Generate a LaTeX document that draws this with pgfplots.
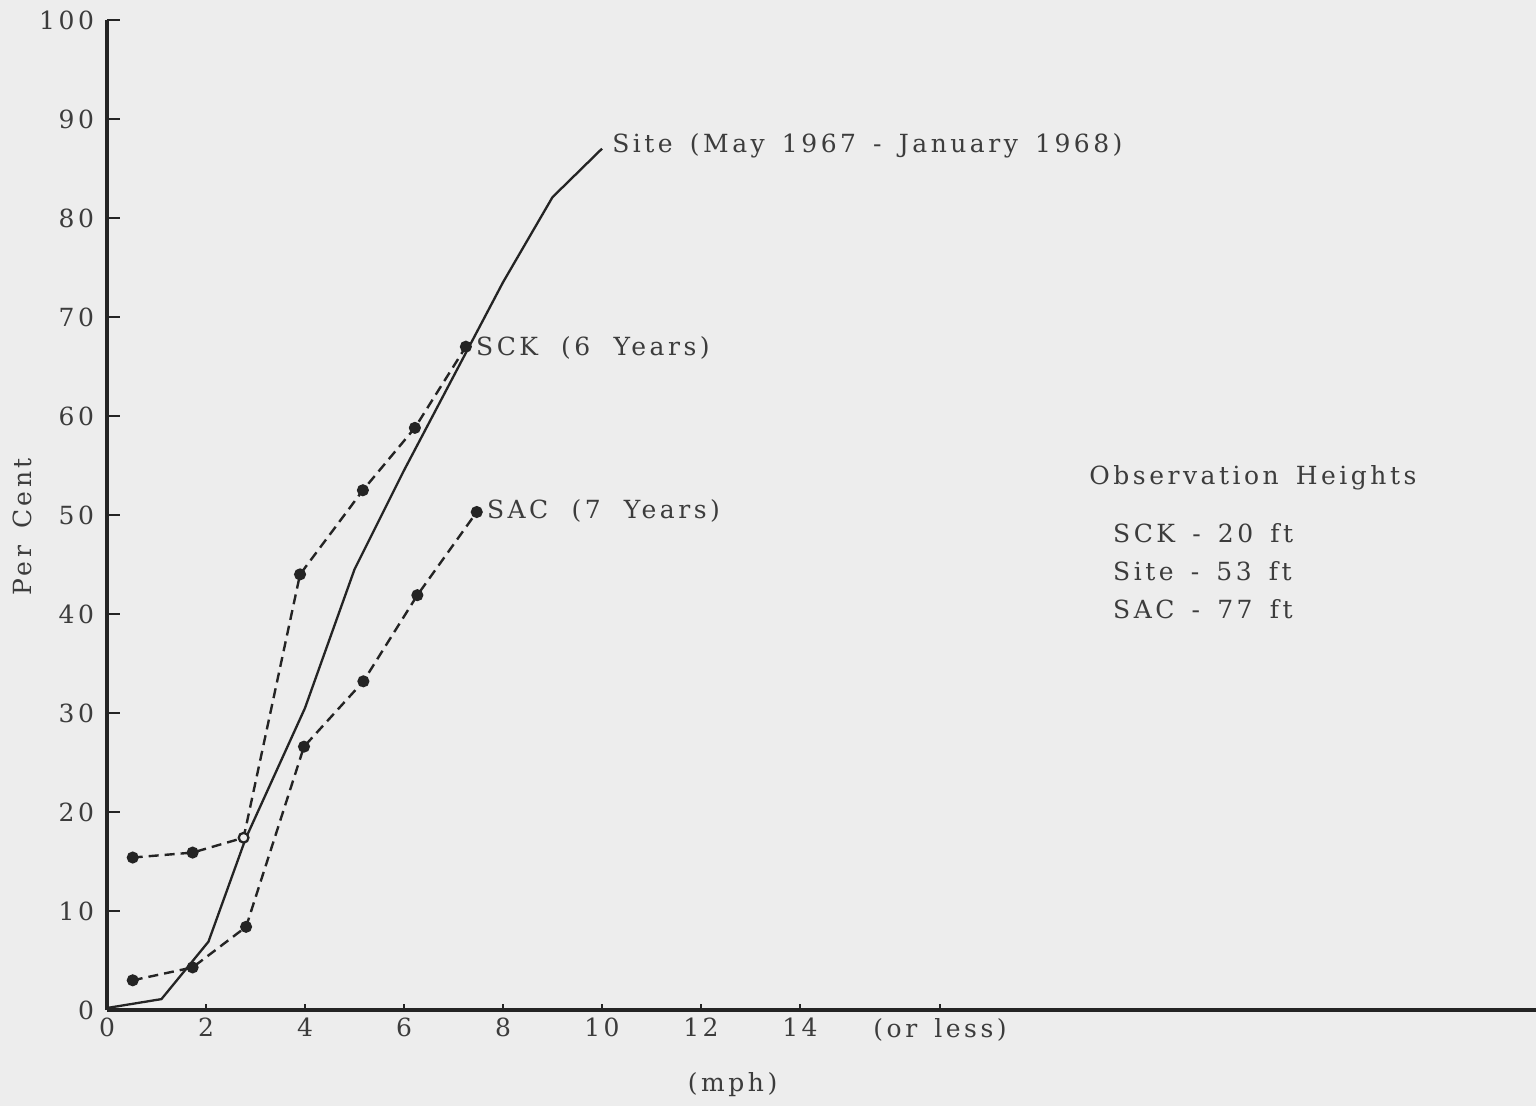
\documentclass[border=0pt]{standalone}
\usepackage{pgfplots}
\pgfplotsset{compat=1.18}
\usepackage{fontspec}
\setmainfont{DejaVu Serif}[LetterSpace=14, WordSpace=1.5]
\definecolor{txt}{HTML}{3C3C3C}
\definecolor{ink}{HTML}{242424}
\definecolor{paper}{HTML}{EDEDED}
\begin{document}
\begin{tikzpicture}[x=1pt,y=1pt]
\fill[paper] (-53.5,-48) rectangle (714.5,505);
\useasboundingbox (-53.5,-48) rectangle (714.5,505);
\begin{axis}[
  at={(0,0)}, anchor=south west,
  scale only axis, width=714.5pt, height=495pt,
  xmin=0, xmax=28.87, ymin=0, ymax=100,
  axis x line=bottom, axis y line=left,
  axis line style={-, ink, line width=1.6pt},
  xtick={0,2,...,14}, ytick={0,10,...,100},
  extra x ticks={16.83}, extra x tick labels={(or less)},
  extra x tick style={/pgfplots/major tick length=0pt},
  tick align=inside,
  major tick length=6.5pt,
  xtick style={ink, line width=1.3pt, /pgfplots/major tick length=3pt},
  ytick style={ink, line width=1.3pt},
  tick label style={font=\fontsize{12.5}{14}\selectfont, text=txt},
  yticklabel style={xshift=-3pt},
  xticklabel style={yshift=-0.5pt},
  /pgf/number format/assume math mode=true,
  clip=false,
]
\addplot[ink, line width=1.15pt] coordinates {
(0,0.2) (1.1,1.1) (2.05,6.9) (2.8,17.3) (3.5,25) (4,30.5) (5,44.5) (6,54.5) (7,64) (8,73.5) (9,82.1) (10,87)};
\addplot[ink, line width=1.2pt, dash pattern=on 5pt off 3pt, mark=*, mark size=2.4pt, mark options={solid, fill=ink}] coordinates {
(0.52,15.4) (1.73,15.9) (2.76,17.4) (3.9,44) (5.17,52.5) (6.22,58.8) (7.25,67)};
\addplot[only marks, mark=*, mark size=2.3pt, mark options={solid, fill=paper, draw=ink, line width=0.9pt}] coordinates {(2.76,17.4)};
\addplot[ink, line width=1.2pt, dash pattern=on 5pt off 3pt, mark=*, mark size=2.4pt, mark options={solid, fill=ink}] coordinates {
(0.52,3.0) (1.73,4.3) (2.81,8.4) (3.98,26.6) (5.18,33.2) (6.27,41.9) (7.47,50.3)};
\node[anchor=west, text=txt, font=\fontsize{12.5}{14}\selectfont, inner sep=0pt] at (axis cs:10.2,87.3) {Site (May 1967 - January 1968)};
\node[anchor=west, text=txt, font=\fontsize{12.5}{14}\selectfont, inner sep=0pt] at (axis cs:7.45,66.9) {SCK\hspace{3pt} (6\hspace{3pt} Years)};
\node[anchor=west, text=txt, font=\fontsize{12.5}{14}\selectfont, inner sep=0pt] at (axis cs:7.67,50.4) {SAC\hspace{3pt} (7\hspace{3pt} Years)};
\node[anchor=west, text=txt, font=\fontsize{12.5}{14}\selectfont, inner sep=0pt] at (axis cs:19.84,53.8) {Observation Heights};
\node[anchor=west, text=txt, font=\fontsize{12.5}{14}\selectfont, inner sep=0pt] at (axis cs:20.32,48.2) {SCK - 20 ft};
\node[anchor=west, text=txt, font=\fontsize{12.5}{14}\selectfont, inner sep=0pt] at (axis cs:20.32,44.3) {Site\ - 53 ft};
\node[anchor=west, text=txt, font=\fontsize{12.5}{14}\selectfont, inner sep=0pt] at (axis cs:20.32,40.5) {SAC - 77 ft};
\node[text=txt, font=\fontsize{12.5}{14}\selectfont] at ([yshift=-37.5pt]axis cs:12.64,0) {(mph)};
\node[text=txt, font=\fontsize{12.5}{14}\selectfont, rotate=90] at ([xshift=-42.5pt]axis cs:0,48.8) {Per Cent};
\end{axis}
\end{tikzpicture}
\end{document}
